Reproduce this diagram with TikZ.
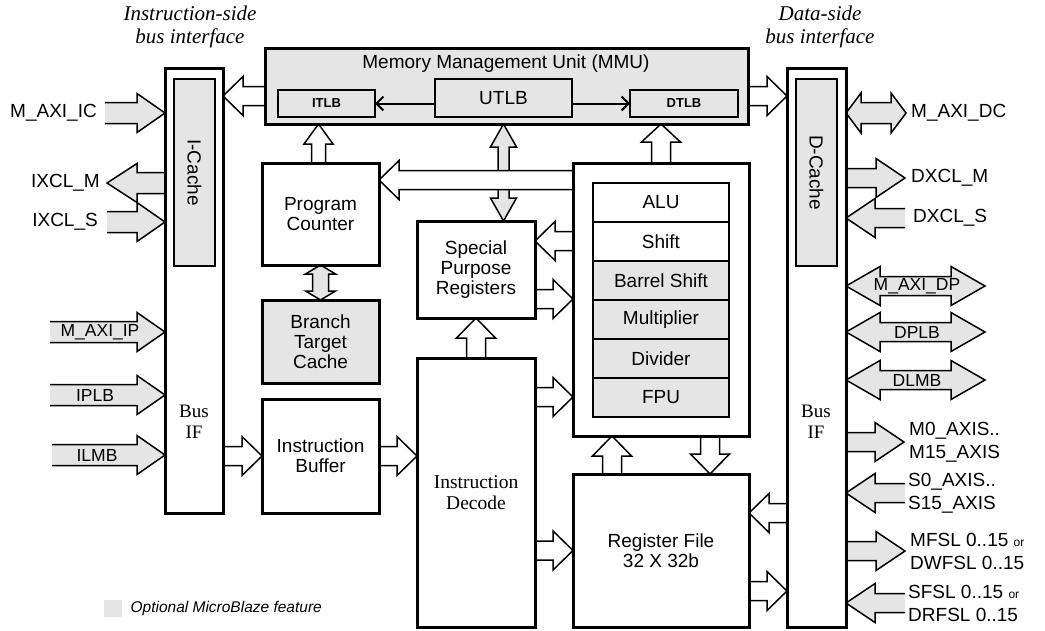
\documentclass[tikz,border=0pt]{standalone}
\usepackage{fontspec}
\setmainfont{Liberation Sans}
\newfontfamily\tms{Liberation Serif}
\usetikzlibrary{calc}
\usetikzlibrary{positioning}
\usetikzlibrary{arrows.meta}
\definecolor{optgray}{RGB}{229,229,229}
\pgfdeclarelayer{bg}
\pgfsetlayers{bg,main}

% block arrow: \barrow[keys]{(tail)}{(tip)}
\newif\ifbaboth
\pgfkeys{/ba/.cd, shaft/.store in=\bashaft, head/.store in=\bahead,
  len/.store in=\balen, fill/.store in=\bafill, both/.code=\babothtrue}
\newcommand{\barrow}[3][]{%
  \begingroup
  \pgfkeys{/ba/.cd, shaft=9.5pt, head=19.5pt, len=20pt, fill=white, #1}%
  \coordinate (baA) at #2;
  \coordinate (baB) at #3;
  \coordinate (baHA) at ($(baA)!\balen!(baB)$);
  \coordinate (baHB) at ($(baB)!\balen!(baA)$);
  \ifbaboth
    \draw[barrowline, fill=\bafill] (baA) -- ($(baHA)!\bahead!90:(baB)$) -- ($(baHA)!\bashaft!90:(baB)$)
      -- ($(baHB)!\bashaft!-90:(baA)$) -- ($(baHB)!\bahead!-90:(baA)$) -- (baB)
      -- ($(baHB)!\bahead!90:(baA)$) -- ($(baHB)!\bashaft!90:(baA)$)
      -- ($(baHA)!\bashaft!-90:(baB)$) -- ($(baHA)!\bahead!-90:(baB)$) -- cycle;
  \else
    \draw[barrowline, fill=\bafill] ($(baA)!\bashaft!90:(baB)$) -- ($(baHB)!\bashaft!-90:(baA)$)
      -- ($(baHB)!\bahead!-90:(baA)$) -- (baB) -- ($(baHB)!\bahead!90:(baA)$)
      -- ($(baHB)!\bashaft!90:(baA)$) -- ($(baA)!\bashaft!-90:(baB)$);
  \fi
  \endgroup}

\tikzset{
  box/.style={draw, line width=3pt, fill=white, inner sep=0pt, outer sep=0pt, anchor=north west,
    align=center, font=\fontsize{19}{20}\selectfont},
  optbox/.style={box, fill=optgray},
  unit/.style={draw, line width=2pt, fill=white, inner sep=0pt, outer sep=0pt,
    minimum width=136pt, minimum height=39pt, font=\fontsize{19}{20}\selectfont},
  optunit/.style={unit, fill=optgray},
  cache/.style={draw, line width=2pt, fill=optgray, inner sep=0pt, outer sep=0pt, rotate=-90,
    minimum width=187pt, minimum height=41pt, font=\fontsize{19}{20}\selectfont},
  tlb/.style={draw, line width=2pt, fill=optgray, inner sep=0pt, outer sep=0pt, anchor=north west,
    font=\bfseries\fontsize{13}{14}\selectfont},
  tlbline/.style={line width=2pt, -{Straight Barb[length=7pt,width=14pt]}},
  lbl/.style={inner sep=0pt, font=\fontsize{19}{20}\selectfont},
  port/.style={lbl},
  porttwo/.style={inner sep=0pt, align=left, font=\fontsize{19}{23}\selectfont},
  inlbl/.style={inner sep=0pt, font=\fontsize{17.5}{18}\selectfont},
  serif/.style={inner sep=0pt, align=center, font=\tms\fontsize{19}{21}\selectfont},
  toplbl/.style={inner sep=0pt, align=center, font=\tms\itshape\fontsize{21}{23}\selectfont},
  barrowline/.style={line width=1.5pt, line join=miter},
}

\begin{document}
\begin{tikzpicture}[x=1pt,y=-1pt]
\useasboundingbox (0,0) rectangle (1045,630);

% bus interfaces
\node[box, minimum width=58pt, minimum height=445pt] (ibus) at (165,68) {};
\node[cache] (icache) at (194.5,172.5) {I-Cache};
\node[serif] (ibuslbl) at (194,422) {Bus\\IF};
\node[box, minimum width=59pt, minimum height=559pt] (dbus) at (787,68) {};
\node[cache] (dcache) at (816.5,172.5) {D-Cache};
\node[serif] (dbuslbl) at (816,422) {Bus\\IF};
\node[toplbl] (islbl) at (190,27) {Instruction-side\\bus interface};
\node[toplbl] (dslbl) at (820,27) {Data-side\\bus interface};

% MMU
\node[optbox, minimum width=483pt, minimum height=76pt] (mmu) at (265,48) {};
\node[lbl] (mmutitle) at (506,64) {Memory Management Unit (MMU)};
\node[tlb, minimum width=97pt, minimum height=27pt] (itlb) at (278,90) {ITLB};
\node[tlb, minimum width=137pt, minimum height=38pt, font=\fontsize{19}{20}\selectfont] (utlb) at (435,79) {UTLB};
\node[tlb, minimum width=108pt, minimum height=27pt] (dtlb) at (630,90) {DTLB};
\draw[tlbline] (utlb.west |- itlb.east) -- (itlb.east);
\draw[tlbline] (utlb.east |- dtlb.west) -- (dtlb.west);

% core blocks
\node[box, minimum width=117pt, minimum height=102pt] (pc) at (262,163) {Program\\Counter};
\node[optbox, minimum width=117pt, minimum height=83pt] (btc) at (262,300) {Branch\\Target\\Cache};
\node[box, minimum width=117pt, minimum height=114pt] (ibuf) at (262,399) {Instruction\\Buffer};
\node[box, minimum width=118pt, minimum height=97pt] (spr) at (417,221) {Special\\Purpose\\Registers};
\node[box, minimum width=118pt, minimum height=269pt, font=\tms\fontsize{19.5}{21}\selectfont] (idec) at (417,358) {Instruction\\Decode};
\node[box, minimum width=176pt, minimum height=273pt] (exu) at (573,163) {};
\node[box, minimum width=176pt, minimum height=153pt] (rf) at (573,474) {Register File\\32 X 32b};

% execution units
\node[unit] (alu) at (661,202.5) {ALU};
\node[unit, below=0pt of alu] (shift) {Shift};
\node[optunit, below=0pt of shift] (bshift) {Barrel Shift};
\node[optunit, below=0pt of bshift] (mul) {Multiplier};
\node[optunit, below=0pt of mul] (div) {Divider};
\node[optunit, below=0pt of div] (fpu) {FPU};

% instruction-side ports
\node[port, anchor=east] (maxiic) at (97,113) {M\_AXI\_IC};
\node[port, anchor=east] (ixclm) at (100,183) {IXCL\_M};
\node[port, anchor=east] (ixcls) at (98,222) {IXCL\_S};
\node[inlbl] (maxiip) at (100,332) {M\_AXI\_IP};
\node[inlbl] (iplb) at (95,395) {IPLB};
\node[inlbl] (ilmb) at (97,455) {ILMB};

% data-side ports
\node[port, anchor=west] (maxidc) at (911,113) {M\_AXI\_DC};
\node[port, anchor=west] (dxclm) at (911,178) {DXCL\_M};
\node[port, anchor=west] (dxcls) at (913,218) {DXCL\_S};
\node[inlbl] (maxidp) at (917,286) {M\_AXI\_DP};
\node[inlbl] (dplb) at (917,332) {DPLB};
\node[inlbl] (dlmb) at (917,380) {DLMB};
\node[porttwo, anchor=west] (maxis) at (909,442) {M0\_AXIS..\\M15\_AXIS};
\node[porttwo, anchor=west] (saxis) at (908,493) {S0\_AXIS..\\S15\_AXIS};
\node[porttwo, anchor=west] (mfsl) at (910,551) {MFSL 0..15 {\fontsize{12}{12}\selectfont or}\\DWFSL 0..15};
\node[porttwo, anchor=west] (sfsl) at (908,603) {SFSL 0..15 {\fontsize{12}{12}\selectfont or}\\DRFSL 0..15};

% legend
\node[fill=optgray, inner sep=0pt, minimum width=18pt, minimum height=17pt, anchor=north west] (lgbox) at (104,600) {};
\node[inner sep=0pt, right=8pt of lgbox, font=\itshape\fontsize{15.5}{17}\selectfont] (lgtxt) {Optional MicroBlaze feature};

\begin{pgfonlayer}{bg}
% internal paths
\barrow{($(mmu.west)+(0,10)$)}{($(mmu.west -| ibus.east)+(0,10)$)}
\barrow{($(mmu.east)+(0,10)$)}{($(mmu.east -| dbus.west)+(0,10)$)}
\barrow[shaft=7pt, head=14.5pt]{($(pc.north)+(-2,0)$)}{($(pc.north |- mmu.south)+(-2,0)$)}
\barrow[both, fill=optgray, shaft=8pt, head=15pt, len=9pt]{(pc.south)}{(btc.north)}
\barrow[both, fill=optgray, shaft=5.5pt, head=13pt, len=23pt]{(utlb.south |- mmu.south)}{(utlb.south |- spr.north)}
\barrow{($(exu.north west)+(0,17)$)}{($(exu.north west -| pc.east)+(0,17)$)}
\barrow{($(spr.east -| exu.west)+(0,-28.5)$)}{($(spr.east)+(0,-28.5)$)}
\barrow{($(spr.east)+(0,29.5)$)}{($(spr.east -| exu.west)+(0,29.5)$)}
\barrow{(idec.north)}{(spr.south)}
\barrow{($(idec.north east)+(0,39)$)}{($(idec.north east -| exu.west)+(0,39)$)}
\barrow[len=18pt]{(exu.north)}{(exu.north |- mmu.south)}
\barrow{(ibuf.west -| ibus.east)}{(ibuf.west)}
\barrow{(ibuf.east)}{(ibuf.east -| idec.west)}
\barrow{(rf.west -| idec.east)}{(rf.west)}
\barrow{($(rf.north)+(-49,0)$)}{($(exu.south)+(-49,0)$)}
\barrow{($(exu.south)+(49,0)$)}{($(rf.north)+(49,0)$)}
\barrow{($(rf.east -| dbus.west)+(0,-37.5)$)}{($(rf.east)+(0,-37.5)$)}
\barrow{($(rf.east)+(0,40.5)$)}{($(rf.east -| dbus.west)+(0,40.5)$)}
% instruction-side
\barrow[fill=optgray, shaft=10.5pt, len=28pt]{($(maxiic.east)+(8,0)$)}{(maxiic.east -| ibus.west)}
\barrow[fill=optgray, shaft=10.5pt, len=30pt]{(ixclm.east -| ibus.west)}{($(ixclm.east)+(7,0)$)}
\barrow[fill=optgray, shaft=10.5pt, len=28pt]{($(ixcls.east)+(9,0)$)}{(ixcls.east -| ibus.west)}
\barrow[fill=optgray, shaft=10.5pt, len=28pt]{($(maxiip)+(-50,0)$)}{(maxiip -| ibus.west)}
\barrow[fill=optgray, shaft=10.5pt, len=28pt]{($(iplb)+(-45,0)$)}{(iplb -| ibus.west)}
\barrow[fill=optgray, shaft=10.5pt, len=28pt]{($(ilmb)+(-45,0)$)}{(ilmb -| ibus.west)}
% data-side
\barrow[both, fill=optgray, shaft=10.5pt, head=20pt, len=15pt]{(maxidc.west -| dbus.east)}{($(maxidc.west)+(-5,0)$)}
\barrow[fill=optgray, len=29pt]{(dxclm.west -| dbus.east)}{($(dxclm.west)+(-6,0)$)}
\barrow[fill=optgray, len=29pt]{($(dxcls.west)+(-8,0)$)}{(dxcls.west -| dbus.east)}
\barrow[both, fill=optgray, len=34pt]{(maxidp -| dbus.east)}{($(maxidp)+(68,0)$)}
\barrow[both, fill=optgray, len=34pt]{(dplb -| dbus.east)}{($(dplb)+(68,0)$)}
\barrow[both, fill=optgray, len=34pt]{(dlmb -| dbus.east)}{($(dlmb)+(68,0)$)}
\barrow[fill=optgray, len=29pt]{(maxis.west -| dbus.east)}{($(maxis.west)+(-5,0)$)}
\barrow[fill=optgray, len=29pt]{($(saxis.west)+(-3,0)$)}{(saxis.west -| dbus.east)}
\barrow[fill=optgray, len=29pt]{(mfsl.west -| dbus.east)}{($(mfsl.west)+(-5,0)$)}
\barrow[fill=optgray, len=29pt]{($(sfsl.west)+(-3,0)$)}{(sfsl.west -| dbus.east)}
\end{pgfonlayer}
\end{tikzpicture}
\end{document}
